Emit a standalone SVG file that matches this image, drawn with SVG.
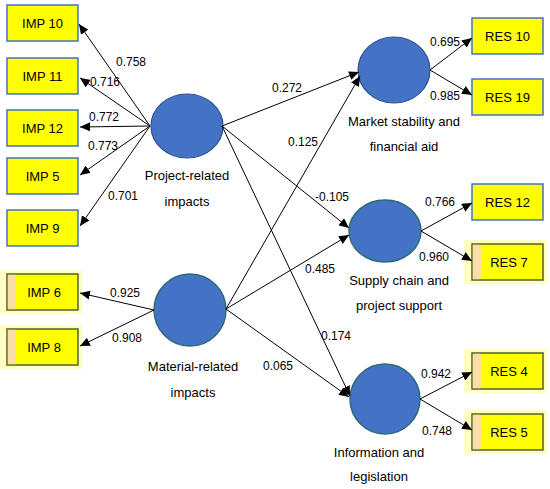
<svg xmlns="http://www.w3.org/2000/svg" width="550" height="489" viewBox="0 0 550 489">
<defs>
<marker id="ah" markerWidth="11" markerHeight="9" refX="10" refY="4.5" orient="auto" markerUnits="userSpaceOnUse">
<path d="M0,0 L10,4.5 L0,9 Z" fill="#000"/>
</marker>
<style>
.box{fill:#ffff00;stroke:#4472c4;stroke-width:1.5}
.gbox{fill:#ffff00;stroke:#4f6228;stroke-width:1.5}
.glow{fill:#ffffc4}
.peach{fill:#fcdcaa}
.lv{fill:#4472c4;stroke:#2f528f;stroke-width:1.2}
.lv2{fill:#4472c4;stroke:#2e6a78;stroke-width:1.5}
.bt{font-family:"Liberation Sans",Arial,sans-serif;font-size:13px;fill:#000;text-anchor:middle}
.lt{font-family:"Liberation Sans",Arial,sans-serif;font-size:13px;fill:#000;text-anchor:middle}
.nt{font-family:"Liberation Sans",Arial,sans-serif;font-size:12px;fill:#000;text-anchor:middle}
.c{stroke:#000;stroke-width:1;fill:none;marker-end:url(#ah)}
</style>
</defs>
<rect width="550" height="489" fill="#fff"/>

<g id="imp10"><rect class="box" x="7" y="5" width="71" height="36"/><text class="bt" x="42.5" y="27.5">IMP 10</text></g>
<g id="imp11"><rect class="box" x="7" y="58" width="71" height="36"/><text class="bt" x="42.5" y="80.5">IMP 11</text></g>
<g id="imp12"><rect class="box" x="7" y="110" width="71" height="36"/><text class="bt" x="42.5" y="132.5">IMP 12</text></g>
<g id="imp5"><rect class="box" x="7" y="158" width="71" height="36"/><text class="bt" x="42.5" y="180.5">IMP 5</text></g>
<g id="imp9"><rect class="box" x="7" y="210" width="71" height="36"/><text class="bt" x="42.5" y="232.5">IMP 9</text></g>
<g id="imp6"><rect class="glow" x="0" y="270" width="82" height="44"/><rect class="gbox" x="7" y="274" width="71" height="36"/><rect class="peach" x="7.8" y="274.8" width="8" height="34.4"/><text class="bt" x="44" y="296.5">IMP 6</text></g>
<g id="imp8"><rect class="glow" x="0" y="325" width="82" height="44"/><rect class="gbox" x="7" y="329" width="71" height="36"/><rect class="peach" x="7.8" y="329.8" width="8" height="34.4"/><text class="bt" x="44" y="351.5">IMP 8</text></g>

<g id="res10"><rect class="box" x="472" y="18" width="71" height="36"/><text class="bt" x="507.5" y="40.5">RES 10</text></g>
<g id="res19"><rect class="box" x="472" y="79" width="71" height="36"/><text class="bt" x="507.5" y="101.5">RES 19</text></g>
<g id="res12"><rect class="box" x="472" y="184" width="71" height="36"/><text class="bt" x="507.5" y="206.5">RES 12</text></g>
<g id="res7"><rect class="glow" x="464" y="240" width="83" height="44"/><rect class="gbox" x="472" y="244" width="71" height="36"/><rect class="peach" x="472.8" y="244.8" width="8" height="34.4"/><text class="bt" x="509" y="266.5">RES 7</text></g>
<g id="res4"><rect class="glow" x="464" y="349" width="83" height="44"/><rect class="gbox" x="472" y="353" width="71" height="36"/><rect class="peach" x="472.8" y="353.8" width="8" height="34.4"/><text class="bt" x="509" y="375.5">RES 4</text></g>
<g id="res5"><rect class="glow" x="464" y="410" width="83" height="44"/><rect class="gbox" x="472" y="414" width="71" height="36"/><rect class="peach" x="472.8" y="414.8" width="8" height="34.4"/><text class="bt" x="509" y="436.5">RES 5</text></g>

<g id="project"><ellipse class="lv" cx="187" cy="126" rx="36" ry="32"/><text class="lt" x="187" y="180">Project-related</text><text class="lt" x="187" y="206">impacts</text></g>
<g id="material"><ellipse class="lv2" cx="190" cy="310" rx="36" ry="36"/><text class="lt" x="193" y="371">Material-related</text><text class="lt" x="193" y="397">impacts</text></g>
<g id="market"><ellipse class="lv" cx="394" cy="70" rx="36" ry="33"/><text class="lt" x="404" y="126">Market stability and</text><text class="lt" x="404" y="151">financial aid</text></g>
<g id="supply"><ellipse class="lv2" cx="385" cy="231" rx="36" ry="31"/><text class="lt" x="399" y="285">Supply chain and</text><text class="lt" x="399" y="310">project support</text></g>
<g id="info"><ellipse class="lv2" cx="385" cy="399" rx="35" ry="35"/><text class="lt" x="379" y="457">Information and</text><text class="lt" x="379" y="481">legislation</text></g>

<g id="connectors">
<line class="c" x1="150" y1="126" x2="79" y2="24"/>
<line class="c" x1="150" y1="126" x2="80" y2="78"/>
<line class="c" x1="150" y1="126" x2="80" y2="127"/>
<line class="c" x1="150" y1="126" x2="80" y2="175"/>
<line class="c" x1="150" y1="126" x2="80" y2="226"/>
<line class="c" x1="154" y1="310" x2="80" y2="293"/>
<line class="c" x1="154" y1="310" x2="80" y2="346"/>
<line class="c" x1="222" y1="126" x2="359" y2="72"/>
<line class="c" x1="222" y1="126" x2="349" y2="228"/>
<line class="c" x1="222" y1="126" x2="350" y2="396"/>
<line class="c" x1="226" y1="309" x2="360" y2="76"/>
<line class="c" x1="226" y1="309" x2="349" y2="235"/>
<line class="c" x1="226" y1="309" x2="349" y2="397"/>
<line class="c" x1="430" y1="70" x2="472" y2="38"/>
<line class="c" x1="430" y1="70" x2="472" y2="95"/>
<line class="c" x1="421" y1="231" x2="472" y2="203"/>
<line class="c" x1="421" y1="231" x2="472" y2="261"/>
<line class="c" x1="420" y1="399" x2="472" y2="372"/>
<line class="c" x1="420" y1="399" x2="472" y2="430"/>
<text class="nt" x="131" y="66">0.758</text>
<text class="nt" x="105" y="86">0.716</text>
<text class="nt" x="104" y="121">0.772</text>
<text class="nt" x="103" y="150">0.773</text>
<text class="nt" x="123" y="200">0.701</text>
<text class="nt" x="125" y="297">0.925</text>
<text class="nt" x="127" y="342">0.908</text>
<text class="nt" x="287" y="92">0.272</text>
<text class="nt" x="303" y="146">0.125</text>
<text class="nt" x="332" y="201">-0.105</text>
<text class="nt" x="320" y="273">0.485</text>
<text class="nt" x="336" y="340">0.174</text>
<text class="nt" x="278" y="370">0.065</text>
<text class="nt" x="445" y="46">0.695</text>
<text class="nt" x="445" y="100">0.985</text>
<text class="nt" x="440" y="206">0.766</text>
<text class="nt" x="434" y="261">0.960</text>
<text class="nt" x="436" y="378">0.942</text>
<text class="nt" x="437" y="435">0.748</text>
</g>
</svg>
